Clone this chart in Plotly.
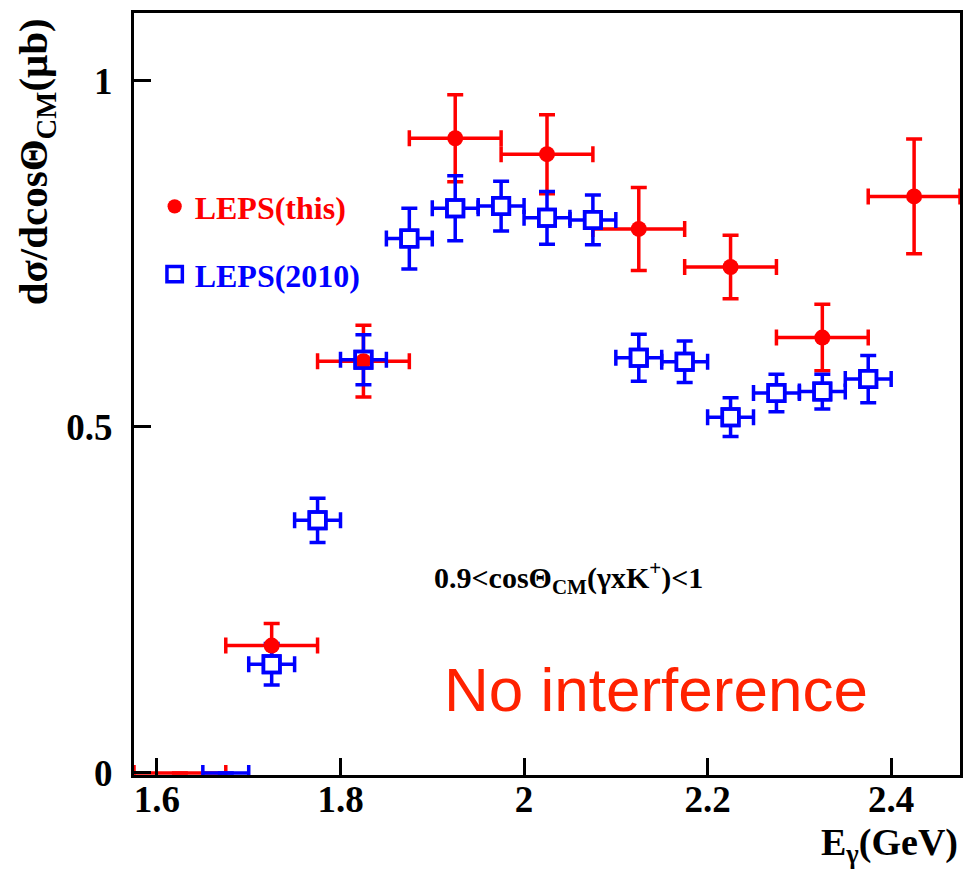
import plotly.graph_objects as go

# ---- data ----
red_x = [1.625, 1.725, 1.825, 1.925, 2.025, 2.125, 2.225, 2.325, 2.425]
red_y = [0.0, 0.184, 0.595, 0.917, 0.894, 0.786, 0.731, 0.629, 0.833]
red_ey = [0.0, 0.032, 0.052, 0.063, 0.057, 0.060, 0.046, 0.048, 0.083]
red_ex = [0.05] * len(red_x)

blue_x = [1.675, 1.725, 1.775, 1.825, 1.875, 1.925, 1.975, 2.025, 2.075,
          2.125, 2.175, 2.225, 2.275, 2.325, 2.375]
blue_y = [0.0, 0.157, 0.365, 0.597, 0.772, 0.816, 0.819, 0.802, 0.799,
          0.600, 0.594, 0.514, 0.549, 0.551, 0.569]
blue_ey = [0.0, 0.030, 0.032, 0.036, 0.044, 0.047, 0.036, 0.038, 0.036,
           0.034, 0.030, 0.028, 0.027, 0.025, 0.034]
blue_ex = [0.025] * len(blue_x)

x_ticks = [1.6, 1.8, 2.0, 2.2, 2.4]
x_ticktext = ["1.6", "1.8", "2", "2.2", "2.4"]
y_ticks = [0, 0.5, 1]
y_ticktext = ["0", "0.5", "1"]

RED = "#FF0000"
BLUE = "#0000FF"
SERIF = "Liberation Serif"

red_sizes = [0 if v == 0 else 16 for v in red_y]
blue_sizes = [0 if v == 0 else 16.5 for v in blue_y]

fig = go.Figure()

# red error bars (beneath)
fig.add_trace(go.Scatter(
    x=red_x, y=red_y, mode="markers",
    marker=dict(size=0, color=RED, opacity=0),
    error_x=dict(type="data", array=red_ex, color=RED, thickness=3.5, width=8),
    error_y=dict(type="data", array=red_ey, color=RED, thickness=3.5, width=8),
    showlegend=False, hoverinfo="skip"))

# blue error bars with white-filled squares
fig.add_trace(go.Scatter(
    x=blue_x, y=blue_y, mode="markers",
    marker=dict(symbol="square", size=blue_sizes, color="white", opacity=1,
                line=dict(color=BLUE, width=3.5)),
    error_x=dict(type="data", array=blue_ex, color=BLUE, thickness=3.5, width=8),
    error_y=dict(type="data", array=blue_ey, color=BLUE, thickness=3.5, width=8),
    showlegend=False, hoverinfo="skip"))

# red markers on top
fig.add_trace(go.Scatter(
    x=red_x, y=red_y, mode="markers", name="LEPS(this)",
    marker=dict(symbol="circle", size=red_sizes, color=RED, opacity=1,
                line=dict(width=0)),
    legend="legend"))

# blue hollow squares outline on top
fig.add_trace(go.Scatter(
    x=blue_x, y=blue_y, mode="markers", name="LEPS(2010)",
    marker=dict(symbol="square-open", size=blue_sizes, color=BLUE, opacity=1,
                line=dict(color=BLUE, width=3.5)),
    legend="legend2"))

axis_common = dict(
    showgrid=False, zeroline=False, showline=True, linecolor="black",
    linewidth=3, mirror=True, ticks="inside", ticklen=17, tickwidth=2.5,
    tickcolor="black",
    tickfont=dict(family=SERIF, size=37, color="black", weight="bold"),
)

fig.update_layout(
    width=975, height=874,
    margin=dict(l=134, r=15, t=10, b=99),
    paper_bgcolor="white", plot_bgcolor="white",
    xaxis=dict(range=[1.575, 2.475], tickvals=x_ticks, ticktext=x_ticktext,
               ticklabelstandoff=-10, **axis_common),
    yaxis=dict(range=[-0.003, 1.098], tickvals=y_ticks, ticktext=y_ticktext,
               ticklabelstandoff=11, **axis_common),
    legend=dict(x=0.025, y=0.746, xanchor="left", yanchor="middle",
                bgcolor="rgba(0,0,0,0)", borderwidth=0,
                font=dict(family=SERIF, size=32, color=RED, weight="bold")),
    legend2=dict(x=0.025, y=0.657, xanchor="left", yanchor="middle",
                 bgcolor="rgba(0,0,0,0)", borderwidth=0,
                 font=dict(family=SERIF, size=32, color=BLUE, weight="bold")),
    annotations=[
        dict(text="<b>dσ/dcosΘ<sub>CM</sub>(μb)</b>", textangle=-90,
             xref="paper", yref="paper", x=-0.119, y=0.996,
             xanchor="center", yanchor="top", showarrow=False,
             font=dict(family=SERIF, size=41, color="black")),
        dict(text="<b>E<sub>γ</sub>(GeV)</b>",
             xref="paper", yref="paper", x=1.0, y=-0.092,
             xanchor="right", yanchor="middle", showarrow=False,
             font=dict(family=SERIF, size=38, color="black")),
        dict(text="<b>0.9&lt;cosΘ<sub>CM</sub>(γxK<sup>+</sup>)&lt;1</b>",
             xref="x", yref="y", x=1.90, y=0.283,
             xanchor="left", yanchor="middle", showarrow=False,
             font=dict(family=SERIF, size=30, color="black")),
        dict(text="No interference",
             xref="x", yref="y", x=2.144, y=0.12,
             xanchor="center", yanchor="middle", showarrow=False,
             font=dict(family="Liberation Sans", size=62, color="#FF2200")),
    ],
)

fig.write_html("out.html")
